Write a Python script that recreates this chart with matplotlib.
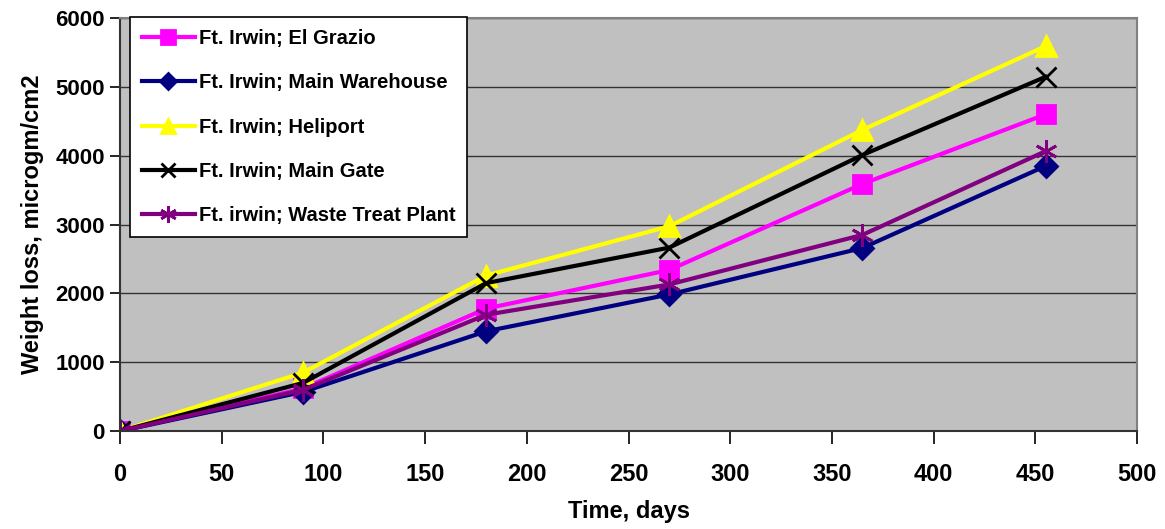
import matplotlib
matplotlib.use("Agg")
import matplotlib.pyplot as plt

plt.rcParams['font.family'] = ['Liberation Sans', 'DejaVu Sans']
plt.rcParams['font.weight'] = 'bold'

# ---- data -------------------------------------------------------------
days = [0, 90, 180, 270, 365, 455]
el_grazio      = [0, 620, 1780, 2340, 3590, 4600]
main_warehouse = [0, 570, 1450, 1985, 2660, 3850]
heliport       = [0, 850, 2260, 2975, 4375, 5590]
main_gate      = [0, 700, 2150, 2665, 4010, 5145]
waste_treat    = [0, 600, 1690, 2130, 2850, 4065]

labels = ["Ft. Irwin; El Grazio", "Ft. Irwin; Main Warehouse", "Ft. Irwin; Heliport",
          "Ft. Irwin; Main Gate", "Ft. irwin; Waste Treat Plant"]
series = [el_grazio, main_warehouse, heliport, main_gate, waste_treat]
colors = ["#FF00FF", "#000080", "#FFFF00", "#000000", "#800080"]
markers = ["s", "D", "^", "x", (6, 2, 0)]
msizes = [13, 11, 14, 14, 16]

fig = plt.figure(figsize=(11.65, 5.29), dpi=100)
ax = fig.add_axes([0.103, 0.185, 0.873, 0.781])
ax.set_facecolor("#C0C0C0")

for ys, lab, c, m, ms in zip(series, labels, colors, markers, msizes):
    ax.plot(days, ys, color=c, lw=3, marker=m, ms=ms, mec=c, mfc=c, mew=2, label=lab)

ax.set_xlim(0, 500)
ax.set_ylim(0, 6000)
ax.set_xticks(range(0, 501, 50))
ax.set_yticks(range(0, 6001, 1000))
ax.yaxis.grid(True, color="#333333", lw=1)
ax.set_axisbelow(True)
for s in ["top", "right"]:
    ax.spines[s].set_color("#808080")
    ax.spines[s].set_linewidth(1.5)
for s in ["left", "bottom"]:
    ax.spines[s].set_color("#333333")
    ax.spines[s].set_linewidth(1.5)
ax.tick_params(axis="x", direction="out", length=9, width=1.2, pad=14, labelsize=17)
ax.tick_params(axis="y", direction="out", length=7, width=1.2, pad=4, labelsize=16)
ax.set_xlabel("Time, days", fontsize=17, fontweight="bold", labelpad=10)
ax.set_ylabel("Weight loss, microgm/cm2", fontsize=17, fontweight="bold", labelpad=8)

leg = ax.legend(loc="upper left", bbox_to_anchor=(0.01, 1.002), frameon=True, fancybox=False,
                fontsize=14.5, handlelength=2.6, labelspacing=1.25, borderpad=0.6,
                handletextpad=0.2, markerscale=0.75, borderaxespad=0)
leg.get_frame().set_edgecolor("black")
leg.get_frame().set_linewidth(1.2)
leg.get_frame().set_facecolor("white")
leg.get_frame().set_alpha(1)

fig.savefig("out.png", dpi=100)
